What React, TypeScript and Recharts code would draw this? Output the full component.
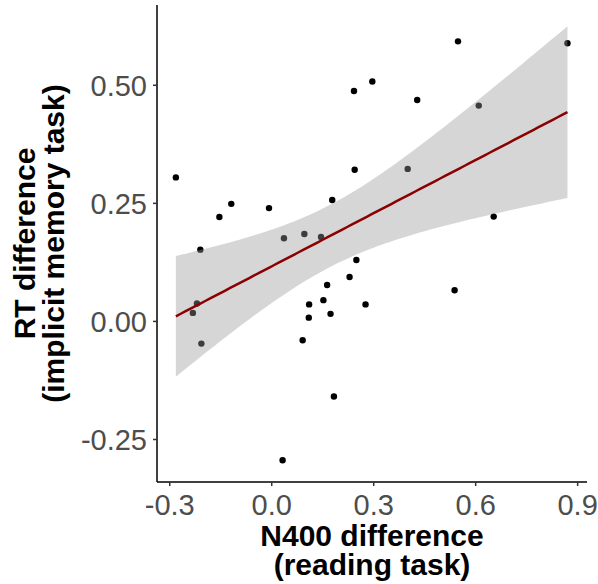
import { ComposedChart, Scatter, Area, Line, XAxis, YAxis, Label } from "recharts";

// N400 difference (reading task) per participant
const n400Diff = [
  -0.282, 0.242, 0.296, -0.154, -0.119, -0.008, 0.244, 0.178, 0.036, 0.096, 0.145,
  -0.21, 0.548, 0.87, 0.428, 0.609, 0.4, 0.653, 0.249, 0.229, 0.163, 0.152,
  0.11, 0.276, 0.109, 0.173, 0.091, 0.183, 0.032, -0.22, -0.232, -0.207, 0.538,
];

// RT difference (implicit memory task), same order
const rtDiff = [
  0.305, 0.488, 0.508, 0.221, 0.249, 0.24, 0.321, 0.257, 0.176, 0.185, 0.179,
  0.152, 0.593, 0.589, 0.469, 0.457, 0.323, 0.222, 0.13, 0.094, 0.077, 0.045,
  0.036, 0.036, 0.008, 0.016, -0.04, -0.159, -0.294, 0.038, 0.018, -0.047, 0.066,
];

const xTicks = [-0.3, 0, 0.3, 0.6, 0.9];
const yTicks = [-0.25, 0, 0.25, 0.5];

const points = n400Diff.map((x, i) => ({ x, y: rtDiff[i] }));

// lm fit with 95% confidence band (like geom_smooth(method = "lm"))
function buildFit() {
  const n = points.length;
  const mx = points.reduce((s, p) => s + p.x, 0) / n;
  const my = points.reduce((s, p) => s + p.y, 0) / n;
  let sxx = 0;
  let sxy = 0;
  for (const p of points) {
    sxx += (p.x - mx) ** 2;
    sxy += (p.x - mx) * (p.y - my);
  }
  const b = sxy / sxx;
  const a = my - b * mx;
  let sse = 0;
  for (const p of points) sse += (p.y - (a + b * p.x)) ** 2;
  const s = Math.sqrt(sse / (n - 2));
  const t = 2.04; // qt(0.975, 31)
  const lo = Math.min(...n400Diff);
  const hi = Math.max(...n400Diff);
  const out = [];
  for (let i = 0; i <= 80; i++) {
    const x = lo + ((hi - lo) * i) / 80;
    const fit = a + b * x;
    const se = s * Math.sqrt(1 / n + (x - mx) ** 2 / sxx);
    out.push({ x, fit, band: [fit - t * se, fit + t * se] });
  }
  return out;
}

const fitData = buildFit();

const FONT = "'Liberation Sans', Arial, Helvetica, sans-serif";
const tickStyle = { fill: "#4D4D4D", fontSize: 29, fontFamily: FONT };

function XTitle(props: any) {
  const vb = props.viewBox;
  const cx = vb.x + vb.width / 2;
  return (
    <text textAnchor="middle" fontFamily={FONT} fontWeight="bold" fontSize={30} fill="#000">
      <tspan x={cx} y={vb.y + 64}>N400 difference</tspan>
      <tspan x={cx} y={vb.y + 93}>(reading task)</tspan>
    </text>
  );
}

function YTitle(props: any) {
  const vb = props.viewBox;
  const cy = vb.y + vb.height / 2;
  return (
    <text transform="rotate(-90)" textAnchor="middle" fontFamily={FONT} fontWeight="bold" fontSize={30} fill="#000">
      <tspan x={-cy} y={35}>RT difference</tspan>
      <tspan x={-cy} y={64}>(implicit memory task)</tspan>
    </text>
  );
}

export default function App() {
  return (
    <div style={{ position: "absolute", left: 0, top: 0, background: "#fff" }}>
      <ComposedChart width={598} height={584} margin={{ top: 5, right: 11, bottom: 0, left: 0 }}>
        <XAxis
          type="number"
          dataKey="x"
          domain={[-0.3375, 0.9275]}
          ticks={xTicks}
          allowDataOverflow
          height={102}
          tickSize={4}
          tickMargin={8}
          tick={tickStyle}
          tickFormatter={(v: number) => v.toFixed(1)}
          axisLine={{ stroke: "#000", strokeWidth: 1.5 }}
          tickLine={{ stroke: "#333", strokeWidth: 1.5 }}
        >
          <Label content={XTitle} />
        </XAxis>
        <YAxis
          type="number"
          domain={[-0.34, 0.67]}
          ticks={yTicks}
          allowDataOverflow
          width={157}
          tickSize={4}
          tickMargin={6}
          tick={tickStyle}
          tickFormatter={(v: number) => v.toFixed(2)}
          axisLine={{ stroke: "#000", strokeWidth: 1.5 }}
          tickLine={{ stroke: "#333", strokeWidth: 1.5 }}
        >
          <Label content={YTitle} />
        </YAxis>
        <Scatter
          data={points}
          dataKey="y"
          isAnimationActive={false}
          shape={(p: any) => <circle cx={p.cx} cy={p.cy} r={3.2} fill="#000" />}
        />
        <Area
          data={fitData}
          dataKey="band"
          type="linear"
          stroke="none"
          fill="#999999"
          fillOpacity={0.4}
          isAnimationActive={false}
          zIndex={700}
        />
        <Line
          data={fitData}
          dataKey="fit"
          type="linear"
          stroke="#8B0000"
          strokeWidth={2.5}
          dot={false}
          activeDot={false}
          isAnimationActive={false}
          zIndex={800}
        />
      </ComposedChart>
    </div>
  );
}
